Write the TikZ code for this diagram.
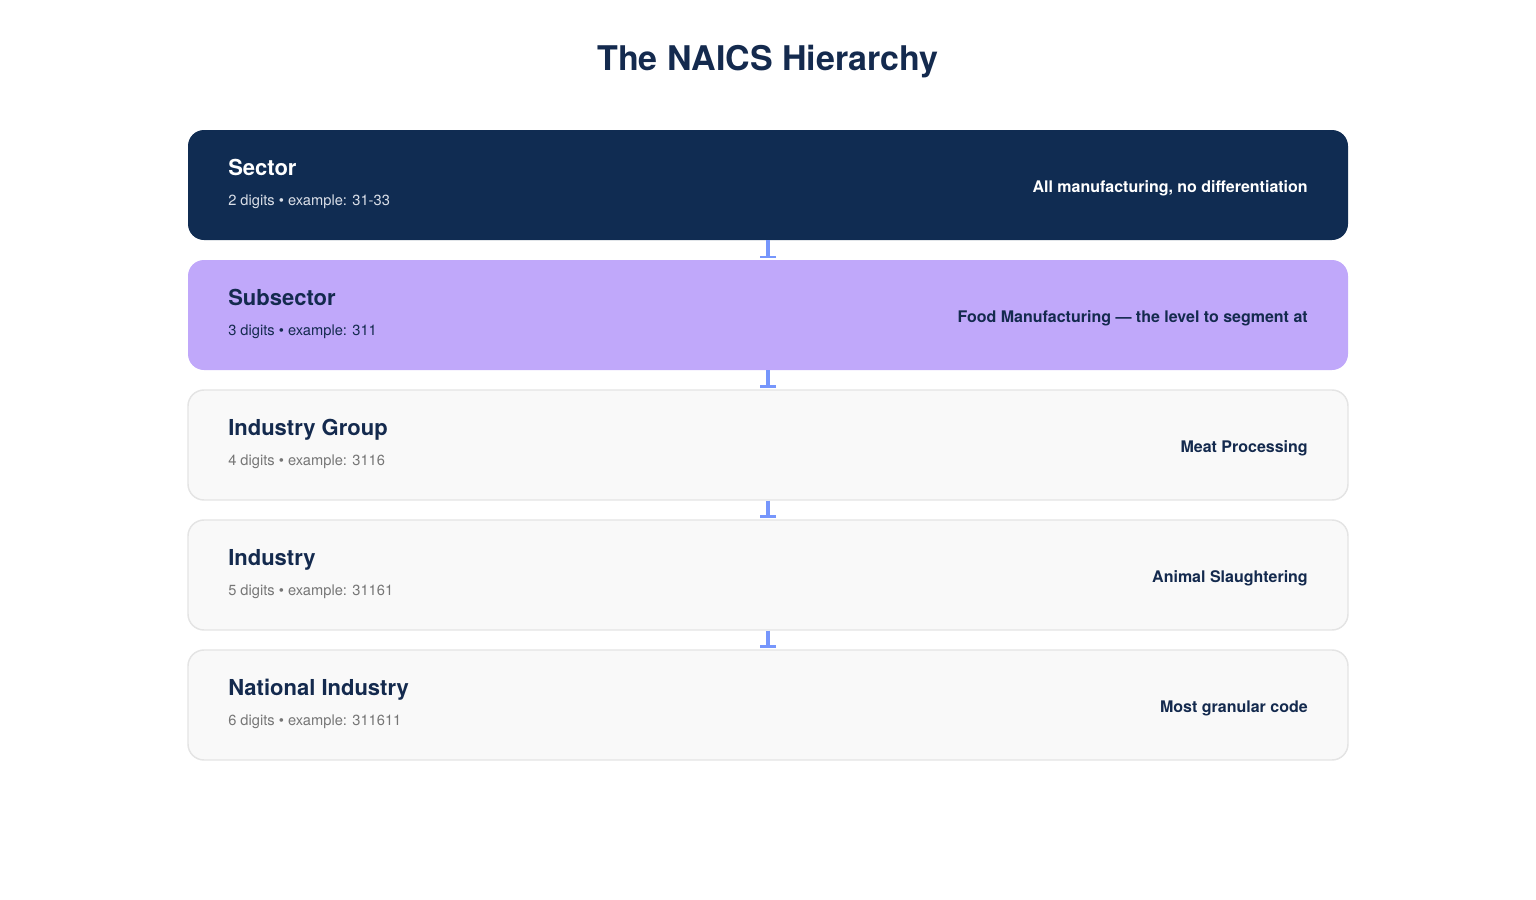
\documentclass[tikz,border=0pt]{standalone}
\usepackage{fontspec}
\setmainfont{TeX Gyre Heros}
\usetikzlibrary{arrows.meta, positioning}

\definecolor{navy}{RGB}{16,44,82}
\definecolor{ink}{RGB}{20,42,78}
\definecolor{lavender}{RGB}{192,168,250}
\definecolor{paper}{RGB}{249,249,249}
\definecolor{rim}{RGB}{228,228,228}
\definecolor{linkblue}{RGB}{118,150,252}
\definecolor{codegray}{RGB}{118,118,118}
\definecolor{codelight}{RGB}{218,223,232}

\begin{document}
\begin{tikzpicture}[x=0.75pt, y=-0.75pt]
        % Setup the styles for the levels
        \tikzset{level style/.style={rectangle, rounded corners=12pt,
                                     minimum width=870pt,
                                     minimum height=82.5pt,
                                     inner sep=0pt},
                 name style/.style={anchor=base west, inner sep=0pt,
                                    font=\fontsize{16.5}{19}\selectfont\bfseries},
                 code style/.style={anchor=base west, inner sep=0pt,
                                    font=\fontsize{11}{13}\selectfont},
                 note style/.style={anchor=base east, inner sep=0pt,
                                    font=\fontsize{12}{14}\selectfont\bfseries},
                 link/.style={line width=3pt, draw=linkblue,
                              -{Bar[width=12pt, line width=2pt]}}}
        \useasboundingbox (0,0) rectangle (1536,900);

        % Title
        \node[anchor=base, inner sep=0pt, text=ink,
              font=\fontsize{25.5}{29}\selectfont\bfseries] at (768, 70) (title) {The NAICS Hierarchy};

        % Draw the levels
        \node[level style, fill=navy] at (768, 185) (sector) {};
        \node[level style, fill=lavender] at (768, 315) (subsector) {};
        \node[level style, fill=paper, draw=rim, line width=1.1pt] at (768, 445) (group) {};
        \node[level style, fill=paper, draw=rim, line width=1.1pt] at (768, 575) (industry) {};
        \node[level style, fill=paper, draw=rim, line width=1.1pt] at (768, 705) (national) {};

        % Texts of the levels
        \node[name style, text=white] at (228, 175) (sectorname) {Sector};
        \node[code style, text=codelight] at (228, 205) (sectorcode) {2 digits • example: 31-33};
        \node[note style, text=white] at (1308, 192) (sectornote) {All manufacturing, no differentiation};

        \node[name style, text=ink] at (228, 305) (subsectorname) {Subsector};
        \node[code style, text=ink] at (228, 335) (subsectorcode) {3 digits • example: 311};
        \node[note style, text=ink] at (1308, 322) (subsectornote) {Food Manufacturing — the level to segment at};

        \node[name style, text=ink] at (228, 435) (groupname) {Industry Group};
        \node[code style, text=codegray] at (228, 465) (groupcode) {4 digits • example: 3116};
        \node[note style, text=ink] at (1308, 452) (groupnote) {Meat Processing};

        \node[name style, text=ink] at (228, 565) (industryname) {Industry};
        \node[code style, text=codegray] at (228, 595) (industrycode) {5 digits • example: 31161};
        \node[note style, text=ink] at (1308, 582) (industrynote) {Animal Slaughtering};

        \node[name style, text=ink] at (228, 695) (nationalname) {National Industry};
        \node[code style, text=codegray] at (228, 725) (nationalcode) {6 digits • example: 311611};
        \node[note style, text=ink] at (1308, 712) (nationalnote) {Most granular code};

        % Connect the levels
        \draw[link] (sector.south) -- ([yshift=1pt]subsector.north);
        \draw[link] (subsector.south) -- ([yshift=1pt]group.north);
        \draw[link] (group.south) -- ([yshift=1pt]industry.north);
        \draw[link] (industry.south) -- ([yshift=1pt]national.north);
\end{tikzpicture}
\end{document}
